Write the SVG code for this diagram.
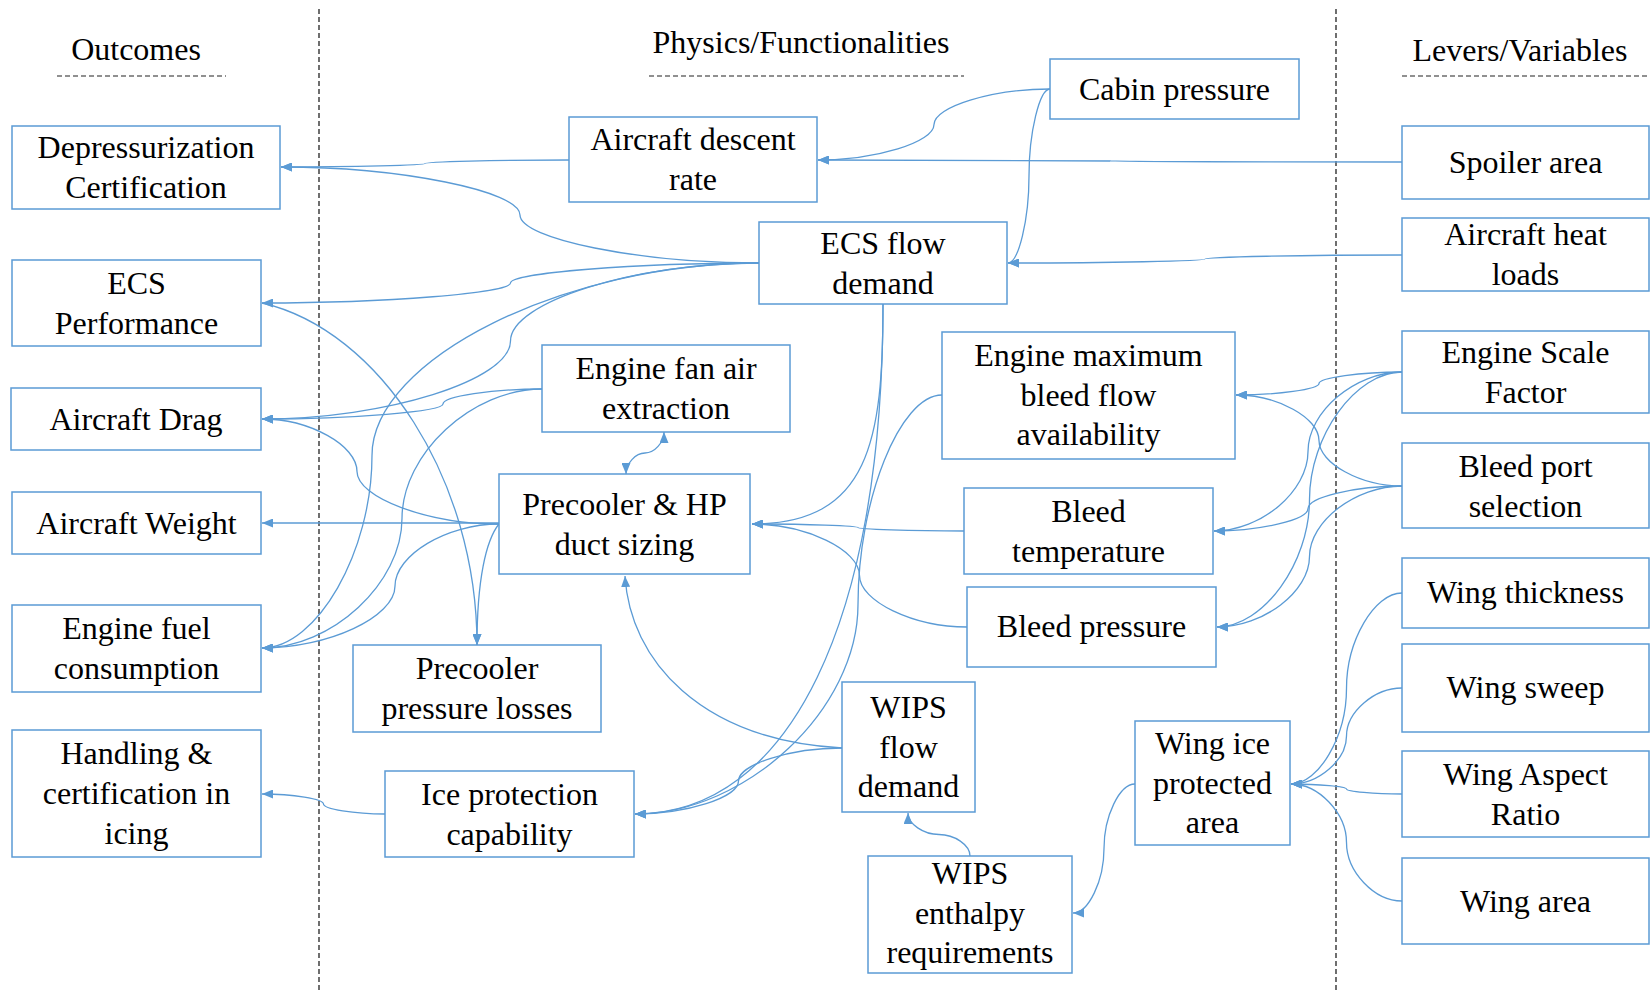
<svg xmlns="http://www.w3.org/2000/svg" width="1650" height="992" viewBox="0 0 1650 992">
<defs>
<marker id="ah" markerUnits="userSpaceOnUse" markerWidth="11" markerHeight="9" refX="11" refY="4.5" orient="auto-start-reverse">
<path d="M0,0 L11,4.5 L0,9 z" fill="#5b9bd5"/>
</marker>
<style>
.box{fill:#ffffff;stroke:#5b9bd5;stroke-width:1.5}
.t{font-family:"Liberation Serif","Times New Roman",serif;font-size:32px;fill:#000000;text-anchor:middle}
.c{fill:none;stroke:#5b9bd5;stroke-width:1.3;marker-end:url(#ah)}
.div{stroke:#222222;stroke-width:1.3;stroke-dasharray:5 3;fill:none}
.ul{stroke:#222222;stroke-width:1.2;stroke-dasharray:5 3;fill:none}
</style>
</defs>
<rect x="0" y="0" width="1650" height="992" fill="#ffffff"/>

<g id="dividers">
<line class="div" x1="319" y1="9" x2="319" y2="992"/>
<line class="div" x1="1336" y1="9" x2="1336" y2="992"/>
</g>

<g id="titles">
<text class="t" x="136" y="60">Outcomes</text>
<line class="ul" x1="57" y1="76" x2="226" y2="76"/>
<text class="t" x="801" y="53">Physics/Functionalities</text>
<line class="ul" x1="649" y1="76" x2="964" y2="76"/>
<text class="t" x="1520" y="61">Levers/Variables</text>
<line class="ul" x1="1402" y1="76" x2="1650" y2="76"/>
</g>

<g id="connectors">
<path class="c" d="M569,160 C497,160 425,161.75 425,163.5 C425,165.25 353,167 281,167"/>
<path class="c" d="M759,263 C639.5,263 520,239 520,215 C520,191 400.5,167 281,167"/>
<path class="c" d="M759,263 C634.75,263 510.5,273 510.5,283 C510.5,293 386.25,303 262,303"/>
<path class="c" d="M759,263 C634.75,263 510.5,302 510.5,341 C510.5,380 386.25,419 262,419"/>
<path class="c" d="M759,263 C565.5,263 372,359.25 372,455.5 C372,551.75 317,648 262,648"/>
<path class="c" d="M542,389 C492.5,389 443,396.5 443,404 C443,411.5 352.5,419 262,419"/>
<path class="c" d="M542,389 C472,389 402,453.75 402,518.5 C402,583.25 332,648 262,648"/>
<path class="c" d="M499,524 C428,524 357,497.75 357,471.5 C357,445.25 309.5,419 262,419"/>
<path class="c" d="M499,523 L262,523"/>
<path class="c" d="M499,524 C447,524 395,555 395,586 C395,617 328.5,648 262,648"/>
<path class="c" d="M499,524 C486,540 477,580 477,645"/>
<path class="c" d="M262,303 C380,330 477,480 477,645"/>
<path class="c" d="M626,474 C626,463.5 635.5,453 645,453 C654.5,453 664,442.5 664,432" marker-start="url(#ah)"/>
<path class="c" d="M883,304 C883,440 870,524 752,524"/>
<path class="c" d="M883,304 C883,620 790,814 635,814"/>
<path class="c" d="M942,395 C900,395 858,499.75 858,604.5 C858,709.25 746.5,814 635,814"/>
<path class="c" d="M842,748 C700,740 630,660 625,576"/>
<path class="c" d="M842,748 C790.25,748 738.5,764.5 738.5,781 C738.5,797.5 686.75,814 635,814"/>
<path class="c" d="M970,856 C970,845 954.5,834.5 939,834.5 C923.5,834.5 908,824 908,813"/>
<path class="c" d="M1135,784 C1119.5,784 1104,816.25 1104,848.5 C1104,880.75 1088.5,913 1073,913"/>
<path class="c" d="M385,814 C354,814 323.5,809 323.5,804 C323.5,799 293,794 262,794"/>
<path class="c" d="M1402,162 C1256,162 1110,161.5 1110,161 C1110,160.5 964,160 818,160"/>
<path class="c" d="M1050,89 C992,89 934,106.75 934,124.5 C934,142.25 876,160 818,160"/>
<path class="c" d="M1050,89 C1039.5,89 1029,132.5 1029,176 C1029,219.5 1018.5,263 1008,263"/>
<path class="c" d="M1402,255 C1303.5,255 1205,257 1205,259 C1205,261 1106.5,263 1008,263"/>
<path class="c" d="M964,531 C911,531 858,529.25 858,527.5 C858,525.75 805,524 752,524"/>
<path class="c" d="M967,627 C913.25,627 859.5,601.25 859.5,575.5 C859.5,549.75 805.75,524 752,524"/>
<path class="c" d="M1402,372 C1360.5,372 1319,377.75 1319,383.5 C1319,389.25 1277.5,395 1236,395"/>
<path class="c" d="M1402,372 C1355,372 1308,411.75 1308,451.5 C1308,491.25 1261,531 1214,531"/>
<path class="c" d="M1402,372 C1355.75,372 1309.5,435.75 1309.5,499.5 C1309.5,563.25 1263.25,627 1217,627"/>
<path class="c" d="M1402,486 C1360.5,486 1319,463.25 1319,440.5 C1319,417.75 1277.5,395 1236,395"/>
<path class="c" d="M1402,486 C1355,486 1308,497.25 1308,508.5 C1308,519.75 1261,531 1214,531"/>
<path class="c" d="M1402,486 C1355.75,486 1309.5,521.25 1309.5,556.5 C1309.5,591.75 1263.25,627 1217,627"/>
<path class="c" d="M1402,593 C1374.25,593 1346.5,640.75 1346.5,688.5 C1346.5,736.25 1318.75,784 1291,784"/>
<path class="c" d="M1402,688 C1374.25,688 1346.5,712 1346.5,736 C1346.5,760 1318.75,784 1291,784"/>
<path class="c" d="M1402,794 C1374.25,794 1346.5,791.5 1346.5,789 C1346.5,786.5 1318.75,784 1291,784"/>
<path class="c" d="M1402,901 C1374.25,901 1346.5,871.75 1346.5,842.5 C1346.5,813.25 1318.75,784 1291,784"/>
</g>

<g id="dep"><rect class="box" x="12" y="126" width="268" height="83"/><text class="t" x="146" y="158">Depressurization</text><text class="t" x="146" y="198">Certification</text></g>
<g id="ecsperf"><rect class="box" x="12" y="260" width="249" height="86"/><text class="t" x="136.5" y="294">ECS</text><text class="t" x="136.5" y="334">Performance</text></g>
<g id="drag"><rect class="box" x="11" y="388" width="250" height="62"/><text class="t" x="136" y="430">Aircraft Drag</text></g>
<g id="weight"><rect class="box" x="12" y="492" width="249" height="62"/><text class="t" x="136.5" y="534">Aircraft Weight</text></g>
<g id="fuel"><rect class="box" x="12" y="605" width="249" height="87"/><text class="t" x="136.5" y="639">Engine fuel</text><text class="t" x="136.5" y="679">consumption</text></g>
<g id="handling"><rect class="box" x="12" y="730" width="249" height="127"/><text class="t" x="136.5" y="764">Handling &amp;</text><text class="t" x="136.5" y="804">certification in</text><text class="t" x="136.5" y="844">icing</text></g>

<g id="descent"><rect class="box" x="569" y="117" width="248" height="85"/><text class="t" x="693" y="150">Aircraft descent</text><text class="t" x="693" y="190">rate</text></g>
<g id="cabin"><rect class="box" x="1050" y="59" width="249" height="60"/><text class="t" x="1174.5" y="100">Cabin pressure</text></g>
<g id="ecsflow"><rect class="box" x="759" y="222" width="248" height="82"/><text class="t" x="883" y="254">ECS flow</text><text class="t" x="883" y="294">demand</text></g>
<g id="fanair"><rect class="box" x="542" y="345" width="248" height="87"/><text class="t" x="666" y="379">Engine fan air</text><text class="t" x="666" y="419">extraction</text></g>
<g id="precooler"><rect class="box" x="499" y="474" width="251" height="100"/><text class="t" x="624.5" y="515">Precooler &amp; HP</text><text class="t" x="624.5" y="555">duct sizing</text></g>
<g id="pploss"><rect class="box" x="353" y="645" width="248" height="87"/><text class="t" x="477" y="679">Precooler</text><text class="t" x="477" y="719">pressure losses</text></g>
<g id="iceprot"><rect class="box" x="385" y="771" width="249" height="86"/><text class="t" x="509.5" y="805">Ice protection</text><text class="t" x="509.5" y="845">capability</text></g>
<g id="maxbleed"><rect class="box" x="942" y="332" width="293" height="127"/><text class="t" x="1088.5" y="366">Engine maximum</text><text class="t" x="1088.5" y="406">bleed flow</text><text class="t" x="1088.5" y="445">availability</text></g>
<g id="bleedtemp"><rect class="box" x="964" y="488" width="249" height="86"/><text class="t" x="1088.5" y="522">Bleed</text><text class="t" x="1088.5" y="562">temperature</text></g>
<g id="bleedpress"><rect class="box" x="967" y="587" width="249" height="80"/><text class="t" x="1091.5" y="637">Bleed pressure</text></g>
<g id="wipsflow"><rect class="box" x="842" y="682" width="133" height="130"/><text class="t" x="908.5" y="718">WIPS</text><text class="t" x="908.5" y="758">flow</text><text class="t" x="908.5" y="797">demand</text></g>
<g id="wipsenth"><rect class="box" x="868" y="856" width="204" height="117"/><text class="t" x="970" y="884">WIPS</text><text class="t" x="970" y="924">enthalpy</text><text class="t" x="970" y="963">requirements</text></g>
<g id="wingice"><rect class="box" x="1135" y="721" width="155" height="124"/><text class="t" x="1212.5" y="754">Wing ice</text><text class="t" x="1212.5" y="794">protected</text><text class="t" x="1212.5" y="833">area</text></g>

<g id="spoiler"><rect class="box" x="1402" y="126" width="247" height="73"/><text class="t" x="1525.5" y="173">Spoiler area</text></g>
<g id="heat"><rect class="box" x="1402" y="218" width="247" height="73"/><text class="t" x="1525.5" y="245">Aircraft heat</text><text class="t" x="1525.5" y="285">loads</text></g>
<g id="esf"><rect class="box" x="1402" y="331" width="247" height="82"/><text class="t" x="1525.5" y="363">Engine Scale</text><text class="t" x="1525.5" y="403">Factor</text></g>
<g id="bleedport"><rect class="box" x="1402" y="443" width="247" height="85"/><text class="t" x="1525.5" y="477">Bleed port</text><text class="t" x="1525.5" y="517">selection</text></g>
<g id="thick"><rect class="box" x="1402" y="558" width="247" height="70"/><text class="t" x="1525.5" y="603">Wing thickness</text></g>
<g id="sweep"><rect class="box" x="1402" y="644" width="247" height="88"/><text class="t" x="1525.5" y="698">Wing sweep</text></g>
<g id="ar"><rect class="box" x="1402" y="751" width="247" height="86"/><text class="t" x="1525.5" y="785">Wing Aspect</text><text class="t" x="1525.5" y="825">Ratio</text></g>
<g id="area"><rect class="box" x="1402" y="858" width="247" height="86"/><text class="t" x="1525.5" y="912">Wing area</text></g>
</svg>
